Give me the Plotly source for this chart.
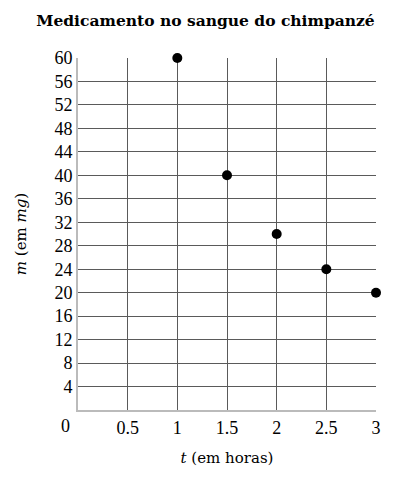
import plotly.graph_objects as go

# horas e miligramas
tempo_horas = [1, 1.5, 2, 2.5, 3]
medicamento_mg = [60, 40, 30, 24, 20]

x_ticks = [0.5, 1, 1.5, 2, 2.5, 3]
x_tick_labels = ["0.5", "1", "1.5", "2", "2.5", "3"]
y_ticks = list(range(4, 61, 4))
y_tick_labels = [str(v) for v in y_ticks]

serif = "Liberation Serif, DejaVu Serif, serif"
wide_serif = "DejaVu Serif, serif"

fig = go.Figure()
fig.add_trace(go.Scatter(
    x=tempo_horas, y=medicamento_mg, mode="markers",
    marker=dict(color="black", size=10, symbol="circle"),
    cliponaxis=False, showlegend=False,
))

fig.update_layout(
    width=395, height=473,
    margin=dict(l=68, r=27, t=50, b=71),
    plot_bgcolor="white", paper_bgcolor="white",
    title=dict(text="<b>Medicamento no sangue do chimpanzé</b>",
               x=0.5, xanchor="center", y=0.973, yanchor="middle",
               font=dict(family=wide_serif, size=15.5, color="black")),
    font=dict(family=serif, color="black"),
)

fig.update_xaxes(
    range=[0, 3], tickvals=x_ticks, ticktext=x_tick_labels,
    tickfont=dict(size=18), ticks="", ticklen=0,
    showgrid=True, gridcolor="#5a5a5a", gridwidth=1,
    showline=True, linecolor="#bbb", linewidth=2, zeroline=False,
    title=dict(text="<i>t</i> (em horas)", font=dict(family=wide_serif, size=15), standoff=16),
)
fig.update_yaxes(
    range=[0, 60], tickvals=y_ticks, ticktext=y_tick_labels,
    tickfont=dict(size=18), ticks="", ticklen=0,
    showgrid=True, gridcolor="#5a5a5a", gridwidth=1,
    showline=True, linecolor="#bbb", linewidth=2, zeroline=False,
    title=dict(text="<i>m</i> (em <i>mg</i>)", font=dict(family=wide_serif, size=15), standoff=24),
)

# rotulo da origem
fig.add_annotation(x=0, y=0, xref="x", yref="y", text="0", showarrow=False,
                   xanchor="center", yanchor="top", xshift=-13, yshift=-4,
                   font=dict(family=serif, size=18))

fig.write_html("out.html")
